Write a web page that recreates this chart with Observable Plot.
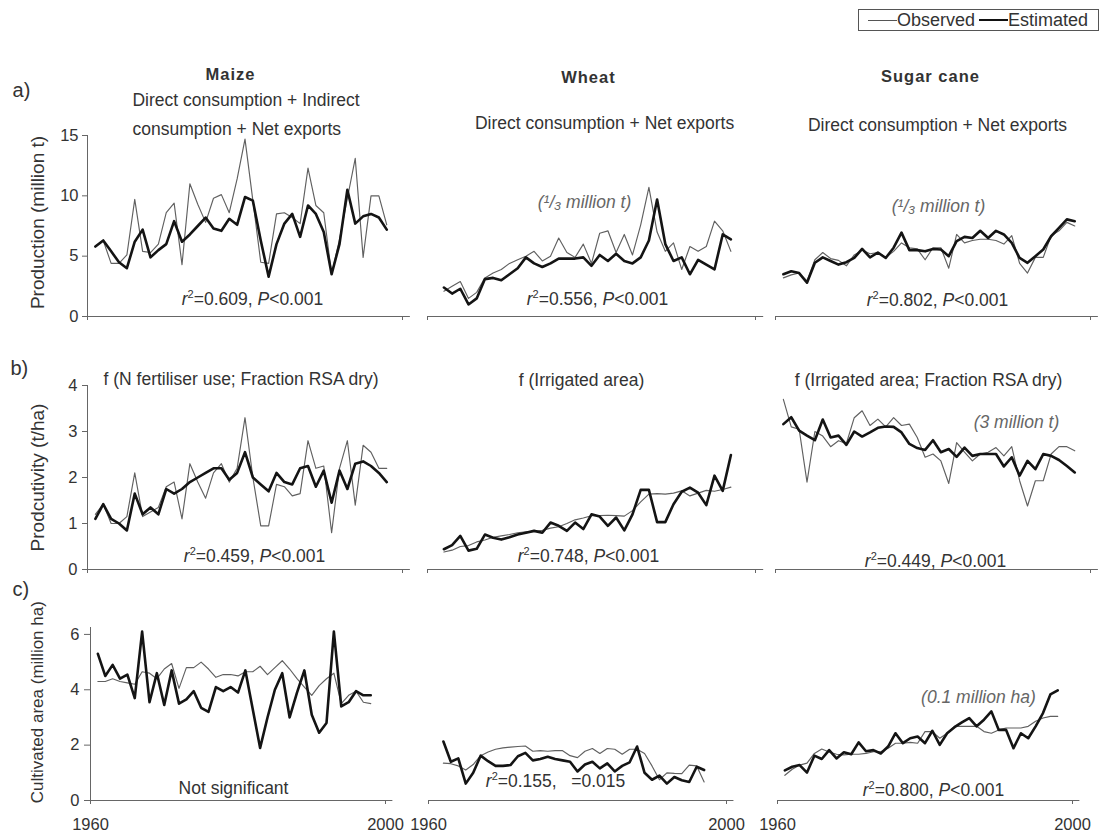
<!DOCTYPE html>
<html><head><meta charset="utf-8">
<script src="https://cdn.jsdelivr.net/npm/d3@7"></script>
<script src="https://cdn.jsdelivr.net/npm/@observablehq/plot@0.6"></script>
<style>
body{margin:0;background:#fff;}
#fig{position:relative;width:1099px;height:833px;font-family:"Liberation Sans",Arial,sans-serif;color:#333;overflow:hidden;}
#fig svg{position:absolute;}
.legend{position:absolute;left:858px;top:9px;width:241px;height:22px;box-sizing:border-box;border:1px solid #555;display:flex;align-items:center;padding-left:9px;font-size:18px;color:#333;white-space:nowrap;}
.sw{display:inline-block;width:29px;height:0;}
.sw.thin{border-top:1px solid #555;}
.sw.thick{border-top:2.6px solid #111;margin-left:4px;}
</style></head>
<body>
<div id="fig">
  <div class="legend"><span class="sw thin"></span>Observed<span class="sw thick"></span>Estimated</div>
</div>
<script>
// ---------- DATA ----------
const maizeYears = [1961,1962,1963,1964,1965,1966,1967,1968,1969,1970,1971,1972,1973,1974,1975,1976,1977,1978,1979,1980,1981,1982,1983,1984,1985,1986,1987,1988,1989,1990,1991,1992,1993,1994,1995,1996,1997,1998];
const wheatYears = [1962,1963,1964,1965,1966,1967,1968,1969,1970,1971,1972,1973,1974,1975,1976,1977,1978,1979,1980,1981,1982,1983,1984,1985,1986,1987,1988,1989,1990,1991,1992,1993,1994,1995,1996,1997];
const sugarYears = [1961,1962,1963,1964,1965,1966,1967,1968,1969,1970,1971,1972,1973,1974,1975,1976,1977,1978,1979,1980,1981,1982,1983,1984,1985,1986,1987,1988,1989,1990,1991,1992,1993,1994,1995,1996,1997,1998];

// a) Production (million t)
const maizeProdObs = [5.8,6.3,4.4,4.4,5.1,9.7,5.4,5.3,6.0,8.6,9.4,4.3,11.0,9.3,7.8,9.8,10.1,8.6,11.4,14.7,9.6,4.5,4.4,8.5,8.6,8.2,7.7,12.3,9.2,8.6,3.5,6.4,9.8,13.1,4.9,10.0,10.0,7.6];
const maizeProdEst = [5.8,6.3,5.4,4.5,4.0,6.2,7.2,4.9,5.5,6.0,7.9,6.2,6.8,7.5,8.2,7.3,7.1,8.1,7.6,9.9,9.6,6.3,3.3,6.0,7.7,8.5,6.6,9.2,8.5,7.0,3.5,6.0,10.5,7.7,8.3,8.5,8.2,7.2];
const wheatProdObs = [2.1,2.5,2.9,1.5,2.0,3.2,3.6,3.9,4.4,4.7,5.0,5.4,4.6,5.0,6.5,5.3,4.9,6.0,4.4,6.9,7.1,5.3,6.8,5.1,7.6,10.7,7.0,5.4,6.1,3.9,5.8,5.4,5.8,7.9,7.1,5.4];
const wheatProdEst = [2.4,1.9,2.3,1.0,1.5,3.1,3.2,3.0,3.5,4.0,4.9,4.4,4.1,4.4,4.8,4.8,4.8,4.9,4.2,5.1,4.6,5.2,4.6,4.4,4.9,6.3,9.7,6.0,4.6,4.9,3.5,4.7,4.3,3.9,6.8,6.4];
const sugarProdObs = [3.2,3.45,3.6,2.95,4.7,5.3,4.8,4.65,4.2,5.1,5.5,5.2,5.3,4.9,5.4,6.1,5.7,5.6,4.7,5.7,5.7,4.0,6.8,6.1,6.3,6.4,6.4,6.3,6.0,6.7,4.4,3.6,4.9,4.9,6.7,7.1,7.8,7.5];
const sugarProdEst = [3.5,3.75,3.6,2.8,4.45,4.9,4.6,4.3,4.5,4.85,5.6,4.9,5.3,4.85,5.7,6.95,5.5,5.5,5.4,5.6,5.55,5.0,6.25,6.6,6.5,7.1,6.5,7.1,6.8,6.1,4.85,4.45,5.0,5.55,6.65,7.35,8.05,7.9];

// b) Productivity (t/ha)
const maizeYieldObs = [1.2,1.42,1.0,1.0,1.15,2.1,1.15,1.25,1.35,1.8,1.9,1.1,2.3,1.9,1.55,2.1,2.3,1.9,2.2,3.3,2.0,0.95,0.95,1.85,1.8,1.6,1.65,2.8,2.2,2.25,0.8,2.2,2.8,1.4,2.7,2.55,2.2,2.2];
const maizeYieldEst = [1.1,1.42,1.1,1.0,0.85,1.65,1.2,1.35,1.2,1.75,1.65,1.75,1.9,2.0,2.1,2.2,2.2,1.95,2.1,2.55,2.0,1.85,1.7,2.1,1.9,1.85,2.2,2.25,1.8,2.15,1.45,2.15,1.75,2.3,2.35,2.25,2.1,1.9];
const wheatYieldObs = [0.38,0.42,0.5,0.52,0.6,0.64,0.7,0.73,0.76,0.8,0.82,0.83,0.85,0.9,0.93,1.0,1.08,1.12,1.17,1.17,1.18,1.17,1.16,1.28,1.47,1.64,1.65,1.64,1.66,1.71,1.6,1.66,1.72,1.7,1.74,1.79];
const wheatYieldEst = [0.44,0.53,0.73,0.41,0.45,0.76,0.69,0.65,0.7,0.76,0.8,0.84,0.8,1.02,0.95,0.84,1.02,0.88,1.2,1.15,0.95,1.13,0.85,1.2,1.73,1.73,1.03,1.03,1.42,1.69,1.78,1.67,1.4,2.04,1.71,2.49];
const sugarYieldObs = [3.7,3.1,3.05,1.9,3.0,2.9,2.67,2.8,2.74,3.3,3.45,3.13,3.27,3.1,3.3,3.13,3.16,2.87,2.44,2.51,2.36,1.87,2.76,2.55,2.36,2.51,2.55,2.65,2.47,2.67,1.93,1.38,1.93,1.93,2.51,2.67,2.67,2.58];
const sugarYieldEst = [3.16,3.31,3.02,2.91,2.81,3.26,2.87,2.91,2.71,3.0,2.89,2.98,3.08,3.11,3.1,2.98,2.73,2.64,2.6,2.81,2.55,2.62,2.45,2.65,2.47,2.51,2.51,2.51,2.24,2.44,2.04,2.36,2.18,2.51,2.47,2.38,2.25,2.11];

// c) Cultivated area (million ha)
const maizeAreaObs = [4.3,4.3,4.4,4.3,4.25,4.2,4.65,4.6,4.4,4.75,4.95,4.05,4.8,4.8,5.0,4.75,4.45,4.55,4.55,4.5,4.65,4.65,4.85,4.55,4.8,5.05,4.75,4.4,4.1,3.8,4.15,4.4,4.6,3.5,3.8,3.95,3.55,3.5];
const maizeAreaEst = [5.3,4.5,4.9,4.4,4.55,3.7,6.1,3.55,4.6,3.45,4.7,3.5,3.65,3.95,3.35,3.2,4.1,3.95,4.1,3.9,4.7,3.3,1.9,3.0,4.0,4.6,3.0,3.9,4.7,3.1,2.45,2.8,6.1,3.4,3.55,3.95,3.8,3.8];
const wheatAreaObs = [1.35,1.33,1.25,1.1,1.3,1.62,1.75,1.85,1.9,1.93,1.95,1.97,1.78,1.8,1.78,1.8,1.8,1.62,1.55,1.78,1.88,1.7,1.88,1.85,1.67,1.85,1.85,1.7,1.25,0.75,1.0,0.98,0.97,1.28,1.25,0.67];
const wheatAreaEst = [2.13,1.4,1.52,0.61,1.0,1.62,1.42,1.25,1.25,1.28,1.6,1.72,1.45,1.5,1.58,1.5,1.45,1.4,1.05,1.3,1.4,1.16,1.34,1.05,1.25,1.38,1.95,1.0,0.75,0.9,0.61,0.85,0.73,0.67,1.22,1.1];
const sugarAreaObs = [0.91,1.13,1.28,1.35,1.7,1.86,1.75,1.67,1.65,1.67,1.67,1.7,1.76,1.76,1.89,2.07,2.07,2.1,2.07,2.49,2.49,2.25,2.43,2.68,2.68,2.68,2.68,2.49,2.43,2.55,2.62,2.62,2.62,2.68,2.86,2.98,3.04,3.04];
const sugarAreaEst = [1.09,1.22,1.28,1.01,1.62,1.5,1.82,1.52,1.74,1.67,2.1,1.78,1.82,1.7,1.95,2.43,2.07,2.25,2.31,2.07,2.52,2.01,2.43,2.65,2.82,2.98,2.68,2.92,3.22,2.55,2.55,1.89,2.43,2.25,2.68,3.16,3.83,3.98];

// tick labels
const prodTicks = [0,5,10,15];
const yieldTicks = [0,1,2,3,4];
const areaTicks = [0,2,4,6];
const yearTicks = [1960,2000];

// ---------- LAYOUT ----------
const FONT = '"Liberation Sans", Arial, sans-serif';
const cols = [{L:0,W:415},{L:415,W:350},{L:765,W:334}];
const rows = [{T:40,H:300},{T:340,H:240},{T:580,H:253}];
const zip = (years, obs, est) => years.map((year, i) => ({year, obs: obs[i], est: est[i]}));

const panels = [
  {col:0,row:0,x0:87,x2000:402,yTop:135,yB:316,ymax:15,ticks:prodTicks,data:zip(maizeYears,maizeProdObs,maizeProdEst),notes:[
    {x:1950.48,y:18.23,text:"a)",size:20,anchor:"start"},
    {x:1978.16,y:19.6,text:"Maize",size:16.5,bold:true},
    {x:1965.71,y:17.45,text:"Direct consumption + Indirect",anchor:"start"},
    {x:1965.71,y:15.08,text:"consumption + Net exports",anchor:"start"},
    {x:1953.65,y:7.79,text:"Production (million t)",size:19,rotate:-90},
    {x:1980.95,y:0.99,text:"r²=0.609, P<0.001"}]},
  {col:1,row:0,x0:427,x2000:755,yTop:135,yB:316,ymax:15,data:zip(wheatYears,wheatProdObs,wheatProdEst),notes:[
    {x:1979.63,y:19.31,text:"Wheat",size:16.5,bold:true},
    {x:1981.59,y:15.58,text:"Direct consumption + Net exports"},
    {x:1979.15,y:9.03,text:"(¹/₃ million t)",italic:true,fill:"#666"},
    {x:1980.73,y:0.99,text:"r²=0.556, P<0.001"}]},
  {col:2,row:0,x0:775,x2000:1090,yTop:135,yB:316,ymax:15,data:zip(sugarYears,sugarProdObs,sugarProdEst),notes:[
    {x:1979.68,y:19.47,text:"Sugar cane",size:16.5,bold:true},
    {x:1980.57,y:15.41,text:"Direct consumption + Net exports"},
    {x:1980.70,y:8.70,text:"(¹/₃ million t)",italic:true,fill:"#666"},
    {x:1980.57,y:0.91,text:"r²=0.802, P<0.001"}]},
  {col:0,row:1,x0:87,x2000:402,yTop:385,yB:569,ymax:4,ticks:yieldTicks,data:zip(maizeYears,maizeYieldObs,maizeYieldEst),notes:[
    {x:1950.22,y:4.22,text:"b)",size:20,anchor:"start"},
    {x:1962.03,y:4.02,text:"f (N fertiliser use; Fraction RSA dry)",anchor:"start"},
    {x:1953.65,y:2.0,text:"Prodcutivity (t/ha)",size:19,rotate:-90},
    {x:1981.21,y:0.17,text:"r²=0.459, P<0.001"}]},
  {col:1,row:1,x0:427,x2000:755,yTop:385,yB:569,ymax:4,data:zip(wheatYears,wheatYieldObs,wheatYieldEst),notes:[
    {x:1978.78,y:3.98,text:"f (Irrigated area)"},
    {x:1979.63,y:0.17,text:"r²=0.748, P<0.001"}]},
  {col:2,row:1,x0:775,x2000:1090,yTop:385,yB:569,ymax:4,data:zip(sugarYears,sugarYieldObs,sugarYieldEst),notes:[
    {x:1979.43,y:3.98,text:"f (Irrigated area; Fraction RSA dry)"},
    {x:1990.60,y:3.07,text:"(3 million t)",italic:true,fill:"#666"},
    {x:1980.32,y:0.065,text:"r²=0.449, P<0.001"}]},
  {col:0,row:2,x0:90,x2000:385,yTop:627,yB:800,ymax:6.25,ticks:areaTicks,years:true,data:zip(maizeYears,maizeAreaObs,maizeAreaEst),notes:[
    {x:1949.42,y:7.37,text:"c)",size:20,anchor:"start"},
    {x:1952.81,y:3.55,text:"Cultivated area (million ha)",size:17,rotate:-90},
    {x:1979.39,y:0.25,text:"Not significant"}]},
  {col:1,row:2,x0:428,x2000:726,yTop:627,yB:800,ymax:6.25,years:true,data:zip(wheatYears,wheatAreaObs,wheatAreaEst),notes:[
    {x:1977.05,y:0.47,text:"r²=0.155,   =0.015"}]},
  {col:2,row:2,x0:777,x2000:1072,yTop:627,yB:800,ymax:6.25,years:true,data:zip(sugarYears,sugarAreaObs,sugarAreaEst),notes:[
    {x:1987.25,y:3.54,text:"(0.1 million ha)",italic:true,fill:"#666"},
    {x:1981.15,y:0.18,text:"r²=0.800, P<0.001"}]}
];

const NS = "http://www.w3.org/2000/svg";
function richify(svg) {
  svg.querySelectorAll("text").forEach(t => {
    const s = t.textContent;
    if (["Maize","Wheat","Sugar cane"].includes(s)) { t.style.letterSpacing = "1px"; return; }
    if (!s.startsWith("r²")) return;
    const rest = s.slice(2);
    t.textContent = "";
    t.style.whiteSpace = "pre";
    const add = (txt, attrs = {}) => {
      const ts = document.createElementNS(NS, "tspan");
      ts.textContent = txt;
      for (const k in attrs) ts.setAttribute(k, attrs[k]);
      t.appendChild(ts);
    };
    add("r", {"font-style": "italic"});
    add("2", {"font-size": "11px", dy: "-7"});
    const idx = rest.indexOf("P");
    if (idx >= 0) {
      add(rest.slice(0, idx), {dy: "7"});
      add("P", {"font-style": "italic"});
      add(rest.slice(idx + 1));
    } else {
      add(rest, {dy: "7"});
    }
  });
}

const fig = document.getElementById("fig");
for (const p of panels) {
  const {L, W} = cols[p.col];
  const {T, H} = rows[p.row];
  const k = (p.x2000 - p.x0) / 40;
  const lineEnd = p.x2000 + k;
  const marks = [
    Plot.ruleY([0], {stroke: "#666", strokeWidth: 1}),
    Plot.axisX({ticks: yearTicks, tickSize: 4, tickPadding: 14, stroke: "#666", fontSize: 16.5, label: null,
      tickFormat: p.years ? (d => String(d)) : (() => "")}),
    Plot.line(p.data, {x: "year", y: "obs", stroke: "#606060", strokeWidth: 1.15}),
    Plot.line(p.data, {x: "year", y: "est", stroke: "#141414", strokeWidth: 2.6})
  ];
  if (p.col === 0) {
    marks.push(Plot.ruleX([1960], {stroke: "#666", strokeWidth: 1}));
    marks.push(Plot.axisY({ticks: p.ticks, tickSize: p.row === 2 ? 6 : 5, tickPadding: p.row === 0 ? 4 : 5,
      stroke: "#666", fontSize: 16.5, label: null, tickFormat: d => String(d)}));
  }
  for (const n of p.notes) {
    marks.push(Plot.text([n], {
      x: "x", y: "y", text: "text",
      fontSize: n.size ?? 17.5,
      textAnchor: n.anchor ?? "middle",
      lineAnchor: n.rotate ? "middle" : "bottom",
      rotate: n.rotate ?? 0,
      fontStyle: n.italic ? "italic" : "normal",
      fontWeight: n.bold ? "bold" : "normal",
      fill: n.fill ?? "#333"
    }));
  }
  const svg = Plot.plot({
    width: W, height: H,
    marginLeft: p.x0 - L,
    marginRight: L + W - lineEnd,
    marginTop: p.yTop - T,
    marginBottom: T + H - p.yB,
    x: {domain: [1960, 2001]},
    y: {domain: [0, p.ymax], axis: p.col === 0 ? undefined : null},
    style: {background: "transparent", fontFamily: FONT, color: "#333", overflow: "visible"},
    marks
  });
  svg.style.left = L + "px";
  svg.style.top = T + "px";
  svg.style.position = "absolute";
  richify(svg);
  fig.appendChild(svg);
}
</script>
</body></html>
